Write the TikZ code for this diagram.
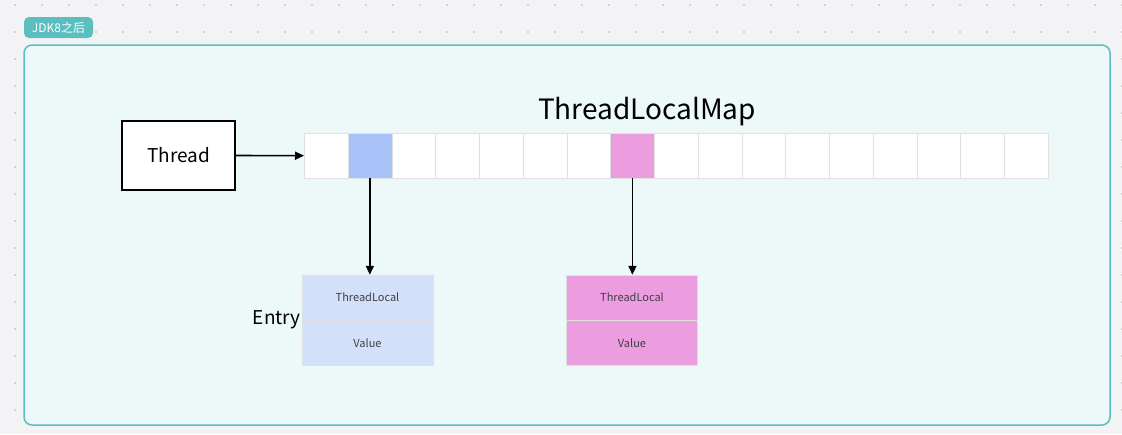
\documentclass[tikz,border=0pt]{standalone}
\usepackage{fontspec}
\setmainfont{Noto Sans CJK SC}
\usetikzlibrary{positioning, arrows.meta}
\definecolor{bgcol}{HTML}{F3F3F5}
\definecolor{framecol}{HTML}{5BBFC0}
\definecolor{framefill}{HTML}{EDF8F8}
\definecolor{bluecell}{HTML}{A8C1F7}
\definecolor{blueentry}{HTML}{D3E0FA}
\definecolor{pinkcell}{HTML}{EC9DE0}
\tikzset{
  arrow/.style = {line width=1.6pt, -{Triangle[length=9pt,width=8pt]}},
  cell/.style = {draw=black!12, fill=white, minimum width=43.76pt, minimum height=45pt, inner sep=0pt, anchor=north west},
  half/.style = {draw=black!12, minimum width=131pt, minimum height=45pt, inner sep=0pt, font=\fontsize{11}{13}\selectfont, text=black!75},
}
\begin{document}
\begin{tikzpicture}[x=1pt, y=-1pt]
  \fill[bgcol] (0,0) rectangle (1122,434);
  \useasboundingbox (0,0) rectangle (1122,434);
  % dotted background
  \foreach \i in {0,...,41} \foreach \j in {0,...,16}
    \fill[black!30] (15+\i*27, 5+\j*27) circle (0.8);
  \filldraw[draw=framecol, fill=framefill, line width=1.5pt, rounded corners=8] (24,45) rectangle (1110,425);
  \node[fill=framecol, text=white, rounded corners=5, minimum width=69pt, minimum height=21pt, inner sep=0pt,
        font=\fontsize{12}{14}\selectfont] (tag) at (58.5,27.5) {JDK8之后};
  % thread
  \node[draw, line width=2.2pt, fill=white, minimum width=113pt, minimum height=69pt, font=\fontsize{19}{22}\selectfont] (thread) at (178.5,155.5) {Thread};
  % map cells
  \foreach \k in {0,...,16}
    \node[cell] (c\k) at (304+\k*43.76,133) {};
  \node[cell, fill=bluecell] at (c1.north west) {};
  \node[cell, fill=pinkcell] at (c7.north west) {};
  \node[font=\fontsize{28}{32}\selectfont] (title) at (647,112) {ThreadLocalMap};
  \draw[arrow] (thread.east) -- (c0.west);
  % entries
  \node[half, fill=blueentry] (bk) at (367.5,297.5) {ThreadLocal};
  \node[half, fill=blueentry, below=0pt of bk] (bv) {Value};
  \node[half, fill=pinkcell] (pk) at (632,297.5) {ThreadLocal};
  \node[half, fill=pinkcell, below=0pt of pk] (pv) {Value};
  \node[font=\fontsize{19}{22}\selectfont, anchor=east, inner sep=1pt] (entry) at (bk.south west) {Entry};
  \draw[arrow] (c1.south) -- (c1.south |- bk.north);
  \draw[arrow] (c7.south) -- (c7.south |- pk.north);
\end{tikzpicture}
\end{document}
